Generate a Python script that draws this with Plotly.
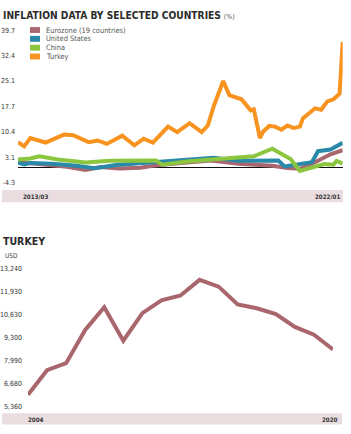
import plotly.graph_objects as go

W, H = 351, 434
FONT = "Liberation Sans Narrow, DejaVu Sans Condensed, Roboto, sans-serif"

def px(v):  # pixel -> paper x
    return v / W
def py(v):  # pixel -> paper y
    return 1 - v / H

# ---------------- data: inflation (%) ----------------
turkey_dates = ["2013-03", "2013-05", "2013-07", "2013-12", "2014-06", "2014-09", "2015-02",
                "2015-05", "2015-08", "2016-01", "2016-05", "2016-08", "2016-11", "2017-04",
                "2017-07", "2017-11", "2018-03", "2018-05", "2018-07", "2018-10", "2018-12",
                "2019-04", "2019-07", "2019-08", "2019-10", "2019-11", "2020-01", "2020-03",
                "2020-05", "2020-07", "2020-09", "2020-11", "2020-12", "2021-02", "2021-04",
                "2021-06", "2021-08", "2021-10", "2021-12", "2022-01"]
turkey_vals = [7.4, 6.2, 8.6, 7.3, 9.6, 9.4, 7.4, 7.9, 6.9, 9.3, 6.5, 8.4, 7.3, 11.9,
               10.3, 12.9, 10.3, 12.2, 18.0, 25.1, 21.0, 19.8, 16.6, 16.9, 8.6, 10.4,
               12.1, 11.9, 11.0, 12.2, 11.5, 11.9, 14.3, 15.8, 17.2, 16.8, 19.2, 19.8,
               21.4, 36.4]

china_dates = ["2013-03", "2013-07", "2013-10", "2014-04", "2015-01", "2015-09", "2016-12",
               "2017-02", "2017-10", "2018-07", "2019-03", "2019-08", "2020-02", "2020-08",
               "2020-11", "2021-03", "2021-07", "2021-10", "2021-11", "2022-01"]
china_vals = [2.4, 2.7, 3.3, 2.4, 1.5, 2.0, 2.1, 0.9, 1.8, 2.4, 2.8, 3.3, 5.5, 2.5,
              -0.9, 0.2, 1.1, 0.9, 2.0, 1.2]

us_dates = ["2013-03", "2013-05", "2013-07", "2014-02", "2014-10", "2015-04", "2015-11",
            "2016-12", "2017-10", "2018-07", "2019-03", "2019-12", "2020-04", "2020-06",
            "2020-11", "2021-03", "2021-05", "2021-09", "2022-01"]
us_vals = [1.5, 1.0, 1.4, 1.2, 0.6, -0.1, 0.8, 1.6, 2.1, 2.9, 2.0, 2.2, 2.1, 0.4,
           1.0, 1.6, 4.8, 5.3, 7.2]

ez_dates = ["2013-03", "2013-10", "2014-03", "2014-07", "2015-01", "2015-06", "2015-12",
            "2016-07", "2016-11", "2017-06", "2017-10", "2018-06", "2019-03", "2020-02",
            "2020-07", "2020-11", "2021-04", "2021-09", "2021-12", "2022-01"]
ez_vals = [1.7, 1.0, 0.6, 0.3, -0.6, 0.2, -0.2, 0.0, 0.6, 1.3, 1.5, 2.1, 1.2, 0.6,
           -0.1, -0.3, 1.6, 3.9, 5.0, 5.1]

series_names = ["Eurozone (19 countries)", "United States", "China", "Turkey"]
series_colors = ["#a9686f", "#2a89a9", "#8cc63f", "#f7931e"]

infl_ticks = [-4.3, 3.1, 10.4, 17.7, 25.1, 32.4, 39.7]
infl_ticktext = ["-4.3", "3.1", "10.4", "17.7", "25.1", "32.4", "39.7"]
infl_xlabels = ["2013/03", "2022/01"]

# ---------------- data: Turkey GDP per capita (USD) ----------------
years = list(range(2004, 2021))
gdp = [6035, 7440, 7840, 9750, 11050, 9130, 10710, 11440, 11720, 12620, 12230,
       11210, 10990, 10650, 9920, 9470, 8625]
gdp_ticks = [5360, 6680, 7990, 9300, 10630, 11930, 13240]
gdp_ticktext = ["5,360", "6,680", "7,990", "9,300", "10,630", "11,930", "13,240"]
gdp_xlabels = ["2004", "2020"]

fig = go.Figure()

all_dates = [ez_dates, us_dates, china_dates, turkey_dates]
all_vals = [ez_vals, us_vals, china_vals, turkey_vals]
for name, col, d, v in zip(series_names, series_colors, all_dates, all_vals):
    fig.add_trace(go.Scatter(x=[s + "-01" for s in d], y=v, mode="lines", name=name,
                             line=dict(color=col, width=4, shape="linear"),
                             cliponaxis=False, xaxis="x", yaxis="y", showlegend=False))

fig.add_trace(go.Scatter(x=years, y=gdp, mode="lines", name="Turkey GDP per capita",
                         line=dict(color="#a9666d", width=4), cliponaxis=False,
                         xaxis="x2", yaxis="y2", showlegend=False))

tickfont = dict(family=FONT, size=7, color="#333")

fig.update_layout(
    width=W, height=H, margin=dict(l=0, r=0, t=0, b=0),
    paper_bgcolor="white", plot_bgcolor="white", showlegend=False,
    xaxis=dict(type="date", range=["2013-03-01", "2022-01-01"], domain=[px(18), px(342.7)],
               showticklabels=False, showgrid=False, zeroline=False, showline=False, ticks=""),
    yaxis=dict(range=[-4.3, 39.7], domain=[py(182), py(27)], tickvals=infl_ticks,
               ticktext=infl_ticktext, tickfont=tickfont, showgrid=False, zeroline=True,
               zerolinecolor="#111", zerolinewidth=1, showline=False, ticks="",
               ticklabelstandoff=2, anchor="x"),
    xaxis2=dict(range=[2004, 2020], domain=[px(28), px(333)], showticklabels=False,
                showgrid=False, zeroline=False, showline=False, ticks="", anchor="y2"),
    yaxis2=dict(range=[5360, 13240], domain=[py(410), py(270)], tickvals=gdp_ticks,
                ticktext=gdp_ticktext, tickfont=tickfont, showgrid=False, zeroline=False,
                showline=False, ticks="", ticklabelstandoff=5, anchor="x2"),
)

shapes = []
annotations = []
band = "#e9dde0"
# x-axis bands
shapes.append(dict(type="rect", xref="paper", yref="paper", x0=px(2), x1=px(343),
                   y0=py(202), y1=py(189.5), fillcolor=band, line=dict(width=0), layer="below"))
shapes.append(dict(type="rect", xref="paper", yref="paper", x0=px(2), x1=px(342),
                   y0=py(428.5), y1=py(417), fillcolor=band, line=dict(width=0), layer="below"))

lblfont = dict(family=FONT, size=6.2, color="#333")
annotations.append(dict(text="<b>%s</b>" % infl_xlabels[0], xref="paper", yref="paper",
                        x=px(21), y=py(196), xanchor="left", yanchor="middle",
                        showarrow=False, font=lblfont))
annotations.append(dict(text="<b>%s</b>" % infl_xlabels[1], xref="paper", yref="paper",
                        x=px(342), y=py(196), xanchor="right", yanchor="middle",
                        showarrow=False, font=lblfont))
annotations.append(dict(text="<b>%s</b>" % gdp_xlabels[0], xref="paper", yref="paper",
                        x=px(26), y=py(423), xanchor="left", yanchor="middle",
                        showarrow=False, font=lblfont))
annotations.append(dict(text="<b>%s</b>" % gdp_xlabels[1], xref="paper", yref="paper",
                        x=px(340), y=py(423), xanchor="right", yanchor="middle",
                        showarrow=False, font=lblfont))

# titles
annotations.append(dict(text="<b>INFLATION DATA BY SELECTED COUNTRIES</b> <span style='font-size:7px;color:#555'>(%)</span>",
                        xref="paper", yref="paper", x=px(1), y=py(12), xanchor="left",
                        yanchor="middle", showarrow=False,
                        font=dict(family=FONT, size=10.2, color="#2b2b2b")))
annotations.append(dict(text="<b>TURKEY</b>", xref="paper", yref="paper", x=px(1), y=py(241.5),
                        xanchor="left", yanchor="middle", showarrow=False,
                        font=dict(family=FONT, size=10.5, color="#2b2b2b")))
annotations.append(dict(text="USD", xref="paper", yref="paper", x=px(3), y=py(257),
                        xanchor="left", yanchor="middle", showarrow=False,
                        font=dict(family=FONT, size=6.5, color="#444")))

# manual legend with square swatches
for i, (name, col) in enumerate(zip(series_names, series_colors)):
    yc = 26.5 + i * 9
    shapes.append(dict(type="rect", xref="paper", yref="paper", x0=px(30), x1=px(40),
                       y0=py(yc + 3), y1=py(yc - 3), fillcolor=col, line=dict(width=0)))
    annotations.append(dict(text=name, xref="paper", yref="paper", x=px(43.5), y=py(yc),
                            xanchor="left", yanchor="middle", showarrow=False,
                            font=dict(family=FONT, size=7.4, color="#555")))

fig.update_layout(shapes=shapes, annotations=annotations)
fig.write_html("out.html")
